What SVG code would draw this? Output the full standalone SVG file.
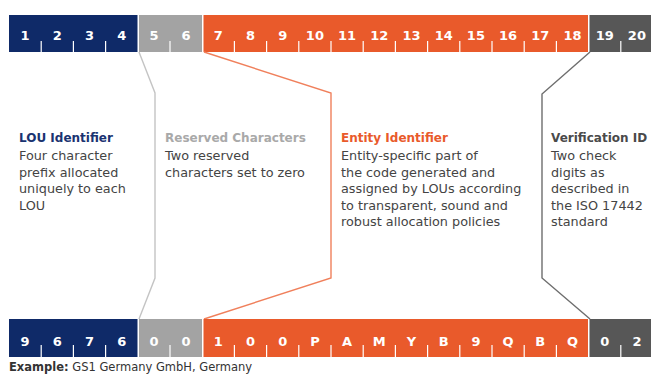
<svg xmlns="http://www.w3.org/2000/svg" width="651" height="374" viewBox="0 0 651 374">
<style>
.d{font-family:"DejaVu Sans","Liberation Sans",sans-serif;font-weight:bold;font-size:13px;fill:#fff;text-anchor:middle}
.tk{stroke:#fff;stroke-width:1.2}
.h{font-family:"DejaVu Sans","Liberation Sans",sans-serif;font-weight:bold;font-size:12px}
.b{font-family:"DejaVu Sans","Liberation Sans",sans-serif;font-size:12.8px;fill:#444}
.c{fill:none;stroke-width:1.4}
</style>
<rect width="651" height="374" fill="#fff"/>
<g id="top-bar">
<g id="top-lou">
<rect x="9" y="15" width="128.5" height="37" fill="#0f2a68"/>
<path class="tk" d="M41.2 41V52M73.4 41V52M105.6 41V52"/>
<text class="d" x="25.1" y="39.5">1</text><text class="d" x="57.3" y="39.5">2</text><text class="d" x="89.5" y="39.5">3</text><text class="d" x="121.7" y="39.5">4</text>
</g>
<g id="top-reserved">
<rect x="139" y="15" width="63" height="37" fill="#a3a3a3"/>
<path class="tk" d="M170 41V52"/>
<text class="d" x="153.9" y="39.5">5</text><text class="d" x="186.1" y="39.5">6</text>
</g>
<g id="top-entity">
<rect x="203.5" y="15" width="384.5" height="37" fill="#e95a2b"/>
<path class="tk" d="M234.4 41V52M266.6 41V52M298.8 41V52M331 41V52M363.2 41V52M395.4 41V52M427.6 41V52M459.8 41V52M492 41V52M524.2 41V52M556.4 41V52"/>
<text class="d" x="218.3" y="39.5">7</text><text class="d" x="250.5" y="39.5">8</text><text class="d" x="282.7" y="39.5">9</text><text class="d" x="314.9" y="39.5">10</text><text class="d" x="347.1" y="39.5">11</text><text class="d" x="379.3" y="39.5">12</text><text class="d" x="411.5" y="39.5">13</text><text class="d" x="443.7" y="39.5">14</text><text class="d" x="475.9" y="39.5">15</text><text class="d" x="508.1" y="39.5">16</text><text class="d" x="540.3" y="39.5">17</text><text class="d" x="572.5" y="39.5">18</text>
</g>
<g id="top-verification">
<rect x="589.5" y="15" width="62" height="37" fill="#575757"/>
<path class="tk" d="M620.8 41V52"/>
<text class="d" x="604.7" y="39.5">19</text><text class="d" x="636.9" y="39.5">20</text>
</g>
</g>
<g id="connectors">
<path class="c" stroke="#c4c4c4" d="M139 52L155 93V278L139 319"/>
<path class="c" stroke="#f0805c" d="M204 52L331 93V278L204 319"/>
<path class="c" stroke="#6e6e6e" d="M590 52L542 94V278L590 319"/>
</g>
<g id="desc-lou">
<text class="h" x="19" y="142" fill="#1a3371">LOU Identifier</text>
<text class="b" x="19" y="160">Four character</text>
<text class="b" x="19" y="176.6">prefix allocated</text>
<text class="b" x="19" y="193.2">uniquely to each</text>
<text class="b" x="19" y="209.8">LOU</text>
</g>
<g id="desc-reserved">
<text class="h" x="165" y="142" fill="#a9a9a9">Reserved Characters</text>
<text class="b" x="165" y="160">Two reserved</text>
<text class="b" x="165" y="176.6">characters set to zero</text>
</g>
<g id="desc-entity">
<text class="h" x="341" y="142" fill="#e95a2b">Entity Identifier</text>
<text class="b" x="341" y="160">Entity-specific part of</text>
<text class="b" x="341" y="176.6">the code generated and</text>
<text class="b" x="341" y="193.2">assigned by LOUs according</text>
<text class="b" x="341" y="209.8">to transparent, sound and</text>
<text class="b" x="341" y="226.4">robust allocation policies</text>
</g>
<g id="desc-verification">
<text class="h" x="551" y="142" fill="#4a4a4a">Verification ID</text>
<text class="b" x="551" y="160">Two check</text>
<text class="b" x="551" y="176.6">digits as</text>
<text class="b" x="551" y="193.2">described in</text>
<text class="b" x="551" y="209.8">the ISO 17442</text>
<text class="b" x="551" y="226.4">standard</text>
</g>
<g id="bottom-bar">
<g id="bottom-lou">
<rect x="9" y="319" width="128.5" height="38" fill="#0f2a68"/>
<path class="tk" d="M41.2 345V357M73.4 345V357M105.6 345V357"/>
<text class="d" x="25.1" y="346">9</text><text class="d" x="57.3" y="346">6</text><text class="d" x="89.5" y="346">7</text><text class="d" x="121.7" y="346">6</text>
</g>
<g id="bottom-reserved">
<rect x="139" y="319" width="63" height="38" fill="#a3a3a3"/>
<path class="tk" d="M170 345V357"/>
<text class="d" x="153.9" y="346">0</text><text class="d" x="186.1" y="346">0</text>
</g>
<g id="bottom-entity">
<rect x="203.5" y="319" width="384.5" height="38" fill="#e95a2b"/>
<path class="tk" d="M234.4 345V357M266.6 345V357M298.8 345V357M331 345V357M363.2 345V357M395.4 345V357M427.6 345V357M459.8 345V357M492 345V357M524.2 345V357M556.4 345V357"/>
<text class="d" x="218.3" y="346">1</text><text class="d" x="250.5" y="346">0</text><text class="d" x="282.7" y="346">0</text><text class="d" x="314.9" y="346">P</text><text class="d" x="347.1" y="346">A</text><text class="d" x="379.3" y="346">M</text><text class="d" x="411.5" y="346">Y</text><text class="d" x="443.7" y="346">B</text><text class="d" x="475.9" y="346">9</text><text class="d" x="508.1" y="346">Q</text><text class="d" x="540.3" y="346">B</text><text class="d" x="572.5" y="346">Q</text>
</g>
<g id="bottom-verification">
<rect x="589.5" y="319" width="62" height="38" fill="#575757"/>
<path class="tk" d="M620.8 345V357"/>
<text class="d" x="604.7" y="346">0</text><text class="d" x="636.9" y="346">2</text>
</g>
</g>
<g id="example">
<text x="9" y="370.5" font-family="DejaVu Sans, Liberation Sans, sans-serif" font-size="11.5px" fill="#333"><tspan font-weight="bold">Example:</tspan> GS1 Germany GmbH, Germany</text>
</g>
</svg>
